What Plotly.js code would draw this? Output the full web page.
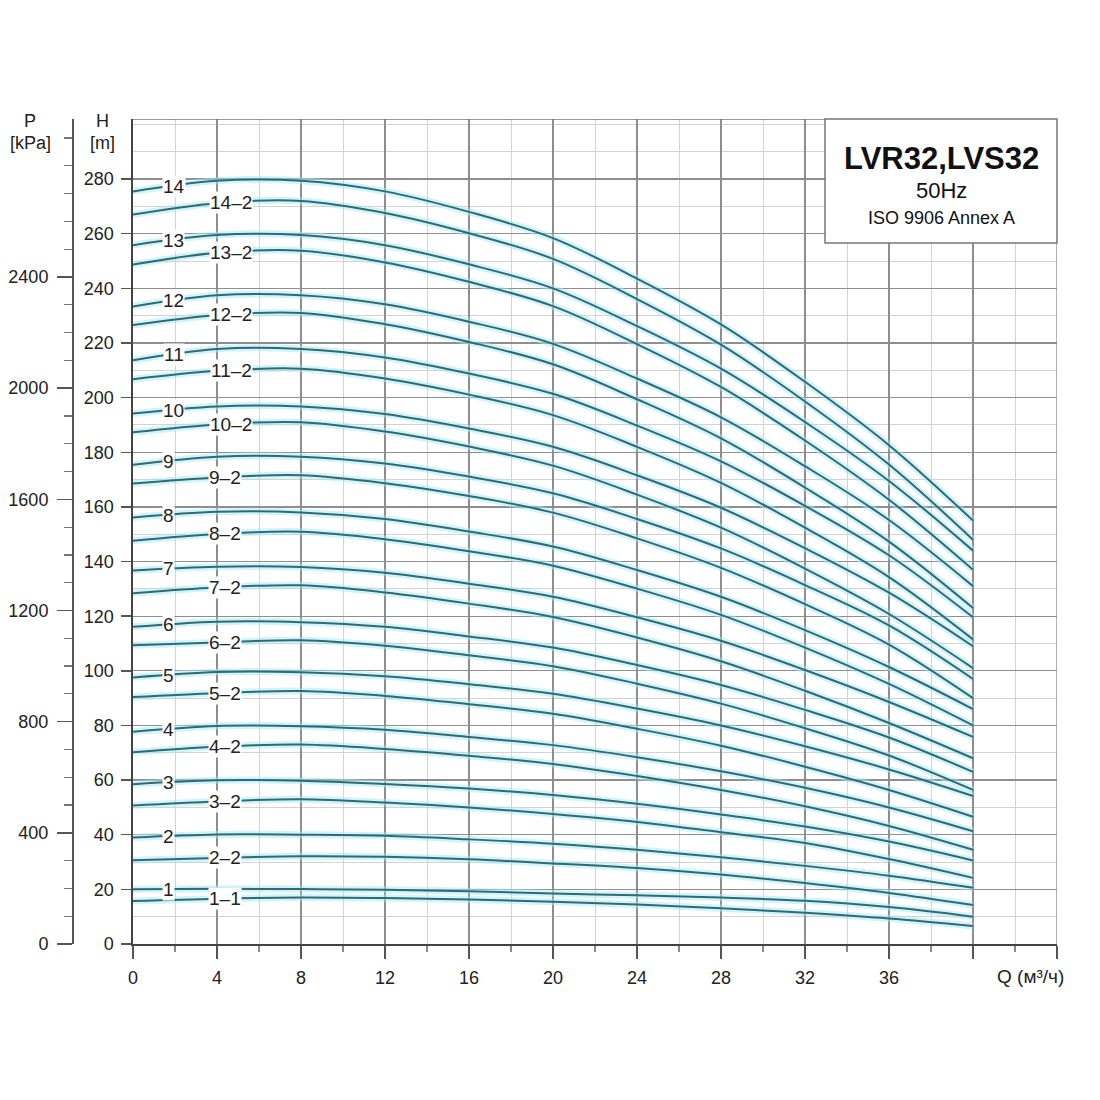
<!DOCTYPE html>
<html>
<head>
<meta charset="utf-8">
<script src="https://cdn.plot.ly/plotly-3.0.1.min.js"></script>
<style>
html,body{margin:0;padding:0;background:#fff;}
#chart{width:1100px;height:1100px;}
</style>
</head>
<body>
<div id="chart"></div>
<script>
// Flow rate Q (m3/h) sample points
const flowQ = [0, 4, 8, 12, 16, 20, 24, 28, 32, 36, 40];

// Head H (m) for each curve
const h14   = [275.5, 279.4, 279.4, 275.5, 268.0, 258.4, 243.6, 226.8, 205.8, 182.6, 155.0];
const h14_2 = [267.0, 271.2, 272.0, 267.6, 260.2, 250.8, 236.1, 219.4, 198.6, 175.5, 148.0];
const h13   = [255.8, 259.5, 259.5, 255.8, 248.8, 240.0, 226.2, 210.6, 191.1, 169.5, 144.0];
const h13_2 = [248.7, 253.0, 253.8, 249.5, 242.4, 233.5, 219.6, 203.9, 184.3, 162.6, 137.0];
const h12   = [233.4, 237.5, 237.5, 234.2, 227.8, 219.7, 207.0, 192.8, 174.9, 155.2, 131.0];
const h12_2 = [226.6, 230.2, 231.0, 226.9, 220.4, 212.2, 199.4, 185.1, 167.1, 147.3, 123.0];
const h11   = [213.7, 217.8, 217.8, 214.7, 208.8, 201.4, 189.8, 176.7, 160.4, 142.3, 119.6];
const h11_2 = [206.7, 209.8, 210.6, 207.0, 201.1, 193.6, 182.0, 168.8, 152.4, 134.3, 111.5];
const h10   = [194.2, 196.8, 196.8, 194.0, 188.7, 182.0, 171.6, 159.7, 144.9, 128.6, 109.0];
const h10_2 = [187.3, 190.2, 191.0, 187.6, 182.1, 175.1, 164.5, 152.4, 137.4, 120.8, 101.0];
const h9    = [175.4, 178.4, 178.4, 175.9, 171.1, 165.0, 155.6, 144.8, 131.4, 116.6, 97.0];
const h9_2  = [168.6, 170.8, 171.6, 168.7, 164.0, 157.9, 148.5, 137.7, 124.4, 109.6, 90.0];
const h8    = [156.1, 158.2, 158.0, 155.6, 151.0, 145.5, 136.9, 127.1, 114.9, 101.4, 86.0];
const h8_2  = [147.6, 150.1, 150.9, 148.2, 143.8, 138.5, 130.1, 120.5, 108.5, 95.2, 80.0];
const h7    = [136.7, 138.1, 138.0, 135.9, 131.9, 127.1, 119.6, 111.0, 100.3, 88.6, 75.8];
const h7_2  = [128.4, 130.5, 131.3, 128.7, 124.6, 119.7, 112.2, 103.5, 92.7, 80.9, 68.0];
const h6    = [116.1, 118.0, 117.8, 116.1, 112.6, 108.5, 102.1, 94.8, 85.7, 75.6, 63.0];
const h6_2  = [109.4, 110.4, 111.2, 109.2, 105.7, 101.7, 95.3, 88.0, 79.0, 69.0, 56.4];
const h5    = [97.6, 99.6, 99.5, 98.0, 95.1, 91.6, 86.2, 80.0, 72.4, 63.9, 54.2];
const h5_2  = [90.4, 91.8, 92.6, 90.8, 87.8, 84.3, 78.8, 72.6, 64.9, 56.4, 46.6];
const h4    = [77.7, 79.8, 79.7, 78.4, 75.8, 72.8, 68.4, 63.2, 57.2, 50.0, 41.3];
const h4_2  = [70.2, 72.2, 73.0, 71.4, 68.9, 65.9, 61.5, 56.4, 50.4, 43.2, 34.5];
const h3    = [58.5, 59.9, 59.8, 58.6, 56.9, 54.5, 51.3, 47.4, 43.0, 37.5, 30.6];
const h3_2  = [50.7, 52.2, 53.0, 51.8, 50.0, 47.6, 44.7, 40.9, 37.0, 31.1, 24.2];
const h2    = [39.0, 40.1, 40.0, 39.6, 38.3, 36.7, 34.5, 31.8, 28.6, 25.0, 20.6];
const h2_2  = [30.7, 31.5, 32.1, 31.9, 31.0, 29.5, 27.8, 25.4, 22.3, 18.7, 14.3];
const h1    = [20.0, 20.2, 20.1, 19.9, 19.3, 18.5, 17.8, 17.0, 15.8, 13.5, 10.0];
const h1_1  = [15.7, 16.6, 17.0, 16.8, 16.3, 15.5, 14.5, 13.1, 11.4, 9.3, 6.6];

// Curve labels
const curveLabels = ['14','14–2','13','13–2','12','12–2','11','11–2','10','10–2',
  '9','9–2','8','8–2','7','7–2','6','6–2','5','5–2','4','4–2','3','3–2','2','2–2','1','1–1'];
const curveHeads = [h14,h14_2,h13,h13_2,h12,h12_2,h11,h11_2,h10,h10_2,
  h9,h9_2,h8,h8_2,h7,h7_2,h6,h6_2,h5,h5_2,h4,h4_2,h3,h3_2,h2,h2_2,h1,h1_1];

// Axis tick labels
const qTickVals = [0,4,8,12,16,20,24,28,32,36,40,44];
const qTickText = ['0','4','8','12','16','20','24','28','32','36','',''];
const hTickVals = [0,20,40,60,80,100,120,140,160,180,200,220,240,260,280];
const pTickVals = [0,400,800,1200,1600,2000,2400];
const pMinorVals = [100,200,300,500,600,700,900,1000,1100,1300,1400,1500,1700,1800,1900,
  2100,2200,2300,2500,2600,2700,2800,2900];

const FONT = 'Liberation Sans, Arial, Helvetica, sans-serif';
const traces = [];
const annotations = [];

function interp(xs, ys, x){
  for (let i=0;i<xs.length-1;i++){
    if (x>=xs[i] && x<=xs[i+1]){
      const t=(x-xs[i])/(xs[i+1]-xs[i]);
      return ys[i]+t*(ys[i+1]-ys[i]);
    }
  }
  return ys[ys.length-1];
}

curveHeads.forEach((h) => {
  traces.push({x: flowQ, y: h, type:'scatter', mode:'lines', hoverinfo:'skip',
    line:{color:'rgba(165,232,243,0.5)', width:7, shape:'spline', smoothing:1}});
});
curveHeads.forEach((h, i) => {
  traces.push({x: flowQ, y: h, type:'scatter', mode:'lines', name: curveLabels[i],
    line:{color:'#2f6b75', width:2, shape:'spline', smoothing:1}});
});
curveHeads.forEach((h, i) => {
  const lab = curveLabels[i];
  const isPart = lab.indexOf('–') >= 0;
  let qc;
  if (isPart) qc = lab.length > 3 ? 4.69 : 4.4;
  else qc = lab.length > 1 ? 1.95 : 1.68;
  annotations.push({x: qc, y: interp(flowQ, h, qc), xref:'x', yref:'y', text: lab,
    showarrow:false, xanchor:'center', yanchor:'middle', bgcolor:'white', borderpad:0,
    font:{family:FONT, size:19, color:'#222'}});
});

// dummy trace for the kPa axis
traces.push({x:[0], y:[0], xaxis:'x', yaxis:'y2', mode:'markers', opacity:0, hoverinfo:'skip', showlegend:false});

const PX_L = 72, PLOT_W = 985, PLOT_TOP = 119, PLOT_BOT = 944, PLOT_H = 825;
const px = v => (v - PX_L) / PLOT_W;
const py = v => (PLOT_BOT - v) / PLOT_H;

annotations.push(
  {xref:'paper', yref:'paper', x:px(30), y:py(120.5), text:'P', showarrow:false, xanchor:'center', yanchor:'middle', font:{family:FONT, size:18, color:'#222'}},
  {xref:'paper', yref:'paper', x:px(30), y:py(142.7), text:'[kPa]', showarrow:false, xanchor:'center', yanchor:'middle', font:{family:FONT, size:18, color:'#222'}},
  {xref:'paper', yref:'paper', x:px(102.3), y:py(120.5), text:'H', showarrow:false, xanchor:'center', yanchor:'middle', font:{family:FONT, size:18, color:'#222'}},
  {xref:'paper', yref:'paper', x:px(102.3), y:py(142.7), text:'[m]', showarrow:false, xanchor:'center', yanchor:'middle', font:{family:FONT, size:18, color:'#222'}},
  {xref:'paper', yref:'paper', x:px(1030), y:py(976), text:'Q (м³/ч)', showarrow:false, xanchor:'center', yanchor:'middle', font:{family:FONT, size:19, color:'#222'}},
  {xref:'paper', yref:'paper', x:px(941.7), y:py(158.3), text:'<b>LVR32,LVS32</b>', showarrow:false, xanchor:'center', yanchor:'middle', font:{family:FONT, size:31, color:'#111'}},
  {xref:'paper', yref:'paper', x:px(941.7), y:py(190), text:'50Hz', showarrow:false, xanchor:'center', yanchor:'middle', font:{family:FONT, size:22, color:'#111'}},
  {xref:'paper', yref:'paper', x:px(941.7), y:py(218.3), text:'ISO 9906 Annex A', showarrow:false, xanchor:'center', yanchor:'middle', font:{family:FONT, size:18, color:'#111'}}
);

const layout = {
  width:1100, height:1100, autosize:false,
  margin:{l:PX_L, r:1100-1057, t:PLOT_TOP, b:1100-PLOT_BOT, pad:0},
  paper_bgcolor:'white', plot_bgcolor:'white', showlegend:false,
  font:{family:FONT, color:'#222', size:18},
  xaxis:{domain:[(133-PX_L)/PLOT_W, 1], range:[0,44], tickmode:'array', tickvals:qTickVals, ticktext:qTickText,
    ticks:'outside', ticklen:13, tickwidth:1.5, tickcolor:'#555', ticklabelstandoff:3,
    showline:true, linecolor:'#444', linewidth:2, showgrid:true, gridcolor:'#8e8e8e', gridwidth:1.3, zeroline:false,
    tickfont:{family:FONT, size:18, color:'#222'},
    minor:{dtick:2, tick0:0, ticks:'outside', ticklen:6, tickwidth:1.2, tickcolor:'#888', showgrid:true, gridcolor:'#d3d3d3', gridwidth:1}},
  yaxis:{range:[0,302], tickmode:'array', tickvals:hTickVals, ticks:'outside', ticklen:10, tickwidth:1.5, tickcolor:'#555',
    ticklabelstandoff:4, showline:true, linecolor:'#444', linewidth:1.6, showgrid:true, gridcolor:'#8e8e8e', gridwidth:1.3,
    zeroline:false, tickfont:{family:FONT, size:18, color:'#222'},
    minor:{dtick:10, tick0:0, ticks:'', showgrid:true, gridcolor:'#d3d3d3', gridwidth:1}},
  yaxis2:{overlaying:'y', anchor:'free', position:0, side:'left', range:[0,2968.5], tickmode:'array', tickvals:pTickVals,
    ticks:'outside', ticklen:15, tickwidth:1.5, tickcolor:'#555', ticklabelstandoff:5,
    showline:true, linecolor:'#555', linewidth:1.6, showgrid:false, zeroline:false,
    tickfont:{family:FONT, size:18, color:'#222'},
    minor:{tickmode:'array', tickvals:pMinorVals, ticks:'outside', ticklen:8, tickwidth:1.2, tickcolor:'#777', showgrid:false}},
  shapes:[
    {type:'line', xref:'x', yref:'y', x0:0, x1:44, y0:302, y1:302, line:{color:'#777', width:1.6}, layer:'above'},
    {type:'line', xref:'x', yref:'y', x0:44, x1:44, y0:0, y1:302, line:{color:'#888', width:1.3}, layer:'above'},
    {type:'rect', xref:'paper', yref:'paper', x0:px(825), x1:1, y0:py(243), y1:1, fillcolor:'white', line:{color:'#777', width:1.5}, layer:'above'}
  ],
  annotations: annotations
};

Plotly.newPlot('chart', traces, layout, {staticPlot:true, displayModeBar:false});
</script>
</body>
</html>
